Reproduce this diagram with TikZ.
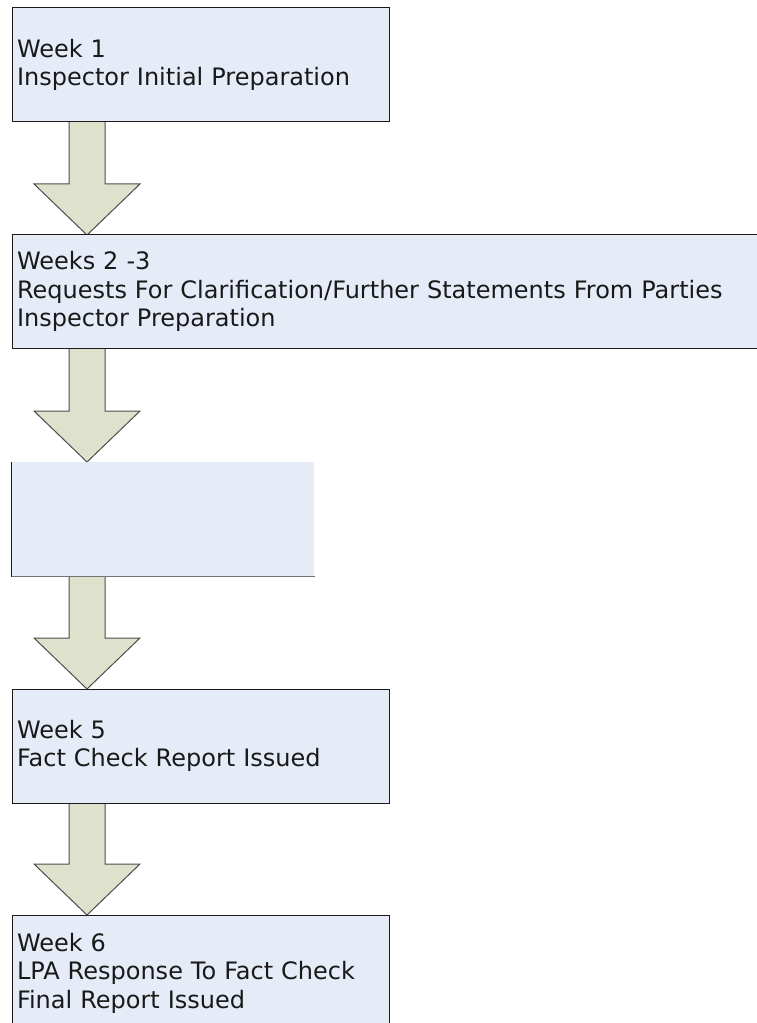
\documentclass[tikz,border=0pt]{standalone}
\usepackage{fontspec}
\setmainfont{DejaVu Sans}
\usetikzlibrary{calc}
\definecolor{boxfill}{HTML}{E6ECF7}
\definecolor{boxline}{HTML}{1A1A1A}
\definecolor{arrfill}{HTML}{DEE1CB}
\definecolor{arrline}{HTML}{4D4D4D}
\tikzset{
  box/.style={rectangle, fill=boxfill, draw=boxline, line width=0.75pt,
    inner xsep=3.75pt, inner ysep=0pt, align=left,
    font=\fontsize{18pt}{21.4pt}\selectfont, text=black!90},
  blockarrow/.style={fill=arrfill, draw=arrline, line width=0.75pt, line join=miter}
}
\begin{document}
\begin{tikzpicture}[x=0.75pt, y=-0.75pt]
\useasboundingbox (0,0) rectangle (756,1023);
% arrow anchor points
\coordinate (a1s) at (87,122);  \coordinate (a1t) at (87,235);
\coordinate (a2s) at (87,348);  \coordinate (a2t) at (87,462);
\coordinate (a3s) at (87,576);  \coordinate (a3t) at (87,689);
\coordinate (a4s) at (87,803);  \coordinate (a4t) at (87,915);
\foreach \s/\t in {a1s/a1t, a2s/a2t, a3s/a3t, a4s/a4t}{
  \draw[blockarrow] ($(\s)+(-18,0)$) -- ($(\t)+(-18,-51)$) -- ($(\t)+(-53,-51)$)
    -- (\t) -- ($(\t)+(53,-51)$) -- ($(\t)+(18,-51)$) -- ($(\s)+(18,0)$);
}
\node[box, minimum width=282.75pt, minimum height=85.5pt, text width=275.25pt] (b1) at (200.5,65)
  {Week 1\\Inspector Initial Preparation};
\node[box, minimum width=561pt, minimum height=84.75pt, text width=553.5pt] (b2) at (386,291.5)
  {Weeks 2 -3\\Requests For Clarification/Further Statements From Parties\\Inspector Preparation};
\node[box, draw=none, minimum width=226.5pt, minimum height=85.5pt, text width=219pt] (b3) at (163,519) {};
\draw[boxline, line width=0.75pt] (b3.north west) -- (b3.south west);
\draw[black!55, line width=0.75pt] (b3.south west) -- (b3.south east);
\node[box, minimum width=282.75pt, minimum height=85.5pt, text width=275.25pt] (b4) at (200.5,746)
  {Week 5\\Fact Check Report Issued};
\node[box, minimum width=282.75pt, minimum height=87pt, text width=275.25pt] (b5) at (200.5,973)
  {Week 6\\LPA Response To Fact Check\\Final Report Issued};
\end{tikzpicture}
\end{document}
